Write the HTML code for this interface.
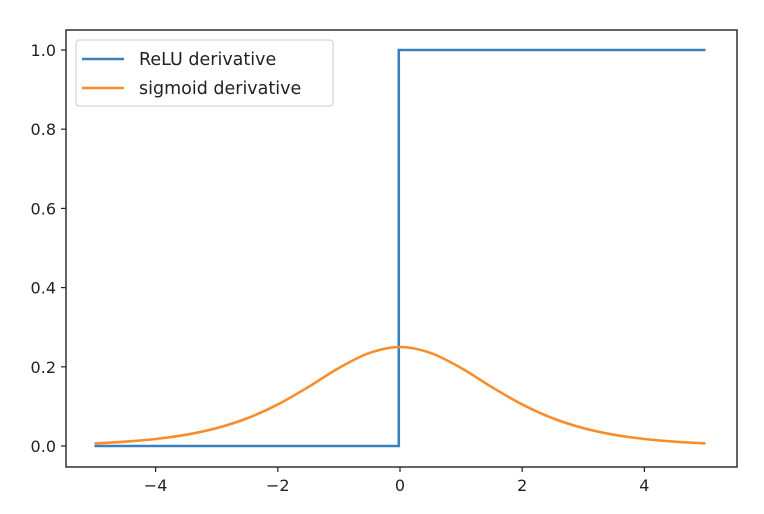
<!DOCTYPE html>
<html><head><meta charset="utf-8"><style>
body{margin:0;background:#fff;}
svg{display:block;font-family:"DejaVu Sans","Liberation Sans",sans-serif;}
</style></head><body>
<svg id="chart" width="764" height="514">
<rect x="0" y="0" width="764" height="514" fill="#fff"/>
<g id="plot"></g>
</svg>
<script>
const xs=[-5,-4.5,-4,-3.5,-3,-2.5,-2,-1.5,-1,-0.5,0,0.5,1,1.5,2,2.5,3,3.5,4,4.5,5];
const sigVals=[0.0066,0.0109,0.0177,0.0285,0.0452,0.0701,0.105,0.149,0.197,0.235,0.25,0.235,0.197,0.149,0.105,0.0701,0.0452,0.0285,0.0177,0.0109,0.0066];
const reluX=[-5,-0.02,-0.02,5];
const reluVals=[0,0,1,1];
const xTicks=[-4,-2,0,2,4];
const yTicks=[0,0.2,0.4,0.6,0.8,1.0];
const L=66,R=737,T=30,B=467;
const sx=v=>400+v*61.1, sy=v=>446-v*396;
const NS="http://www.w3.org/2000/svg";
const g=document.getElementById('plot');
function mk(t,a){const e=document.createElementNS(NS,t);for(const k in a)e.setAttribute(k,a[k]);g.appendChild(e);return e;}
let d=reluX.map((x,i)=>(i?'L':'M')+sx(x)+' '+sy(reluVals[i])).join(' ');
let p=mk('path',{d:d,fill:'none',stroke:'#3a80bc','stroke-width':2.6});


const pts=xs.map((x,i)=>[sx(x),sy(sigVals[i])]);
d='M'+pts[0][0]+' '+pts[0][1];
for(let i=0;i<pts.length-1;i++){const p0=pts[Math.max(0,i-1)],p1=pts[i],p2=pts[i+1],p3=pts[Math.min(pts.length-1,i+2)];
d+=` C${p1[0]+(p2[0]-p0[0])/6} ${p1[1]+(p2[1]-p0[1])/6} ${p2[0]-(p3[0]-p1[0])/6} ${p2[1]-(p3[1]-p1[1])/6} ${p2[0]} ${p2[1]}`;}
p=mk('path',{d:d,fill:'none',stroke:'#f98d2a','stroke-width':2.6});


p=mk('rect',{x:L,y:T,width:R-L,height:B-T,fill:'none',stroke:'#222','stroke-width':1.4});


xTicks.forEach(v=>{const x=sx(v);
 let t=mk('line',{x1:x,x2:x,y1:B,y2:B+5,stroke:'#222','stroke-width':1.2});
 
 
 t=mk('text',{x:x,y:B+24,'text-anchor':'middle','font-size':16,fill:'#222'});
 t.textContent=v<0?'\u2212'+(-v):String(v);
 
 });
yTicks.forEach(v=>{const y=sy(v);
 let t=mk('line',{x1:L-5,x2:L,y1:y,y2:y,stroke:'#222','stroke-width':1.2});
 
 
 t=mk('text',{x:L-10,y:y+6,'text-anchor':'end','font-size':16,fill:'#222'});
 t.textContent=v.toFixed(1);
 
 });
p=mk('rect',{x:76,y:40,width:257,height:66,rx:3,fill:'#fff',stroke:'#ccc','stroke-width':1});


[['ReLU derivative','#3a80bc',59],['sigmoid derivative','#f98d2a',88]].forEach(([n,c,y])=>{
 let l=mk('line',{x1:82,x2:124,y1:y,y2:y,stroke:c,'stroke-width':2.6});
 
 
 let t=mk('text',{x:139,y:y+6,'font-size':17.5,fill:'#222'});
 t.textContent=n;
 
 });
</script>
</body></html>
